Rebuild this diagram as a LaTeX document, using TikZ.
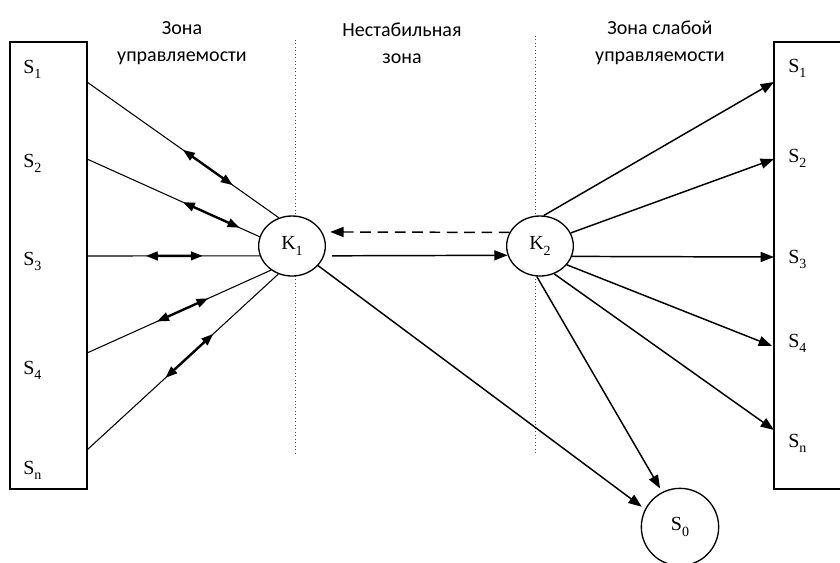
\documentclass[tikz,border=0pt]{standalone}
\usepackage{fontspec}
\setmainfont{Liberation Serif}
\newfontfamily\zonefont{Carlito}
\usetikzlibrary{arrows.meta,shapes.geometric}
\newcommand{\idx}[1]{\raisebox{-4pt}{\fontsize{10.5}{11}\selectfont #1}}
\tikzset{
  knot/.style={draw,ellipse,fill=white,line width=1pt,minimum width=50pt,minimum height=45pt,inner sep=0pt,font=\fontsize{15}{17}\selectfont},
  sink/.style={draw,circle,line width=1pt,minimum size=58pt,inner sep=0pt,font=\fontsize{15}{17}\selectfont},
  slabel/.style={anchor=base west,inner sep=0pt,font=\fontsize{15}{17}\selectfont},
  zone/.style={align=center,font=\zonefont\fontsize{15}{20}\selectfont},
  link/.style={line width=0.8pt},
  both/.style={line width=1.8pt,{Triangle[length=9pt,width=6.5pt]}-{Triangle[length=9pt,width=6.5pt]}},
  push/.style={line width=1.1pt,-{Triangle[length=10pt,width=7.5pt]}},
  border/.style={dotted,line width=0.6pt,black!70}
}
\begin{document}
\begin{tikzpicture}[x=0.75pt,y=-0.75pt]
    \useasboundingbox (0,0) rectangle (840,562);
    % Tên các vùng
    \node[zone] (z1) at (182,43) {Зона\\управляемости};
    \node[zone] (z2) at (402,43) {Нестабильная\\зона};
    \node[zone] (z3) at (660,43) {Зона слабой\\управляемости};
    
    % Ranh giới giữa các vùng
    \draw[border] (295,40) -- (295,453);
    \draw[border] (535,36) -- (535,453);
    
    % Hai khối S bên trái và bên phải
    \draw[line width=1pt] (10,42) rectangle (87,489);
    \draw[line width=1pt] (850,42) -- (774,42) -- (774,489) -- (850,489);
    \foreach \y/\i in {73/1,167/2,265/3,374/4,474/n}
    \node[slabel] (ls\i) at (23,\y) {S\idx{\i}};
    \foreach \y/\i in {72/1,162/2,263/3,347/4,447/n}
    \node[slabel] (rs\i) at (788,\y) {S\idx{\i}};
    
    % Các nút K và S0
    \node[knot] (k1) at (292,246) {K\idx{1}};
    \node[knot] (k2) at (540,246) {K\idx{2}};
    \node[sink] (s0) at (680,527) {S\idx{0}};
    
    % Liên kết hai chiều với K1
    \foreach \i/\y/\a/\p/\q in {1/82/115/0.50/0.76, 2/159/164/0.555/0.884, 3/256/197/0.34/0.67, 4/353/229/0.38/0.66, 5/450/244/0.41/0.66}
    {
    \coordinate (l\i) at (87,\y);
    \draw[link] (l\i) -- (k1.\a) coordinate[pos=\p] (a\i) coordinate[pos=\q] (b\i);
    \draw[both] (a\i) -- (b\i);
    }
    
    % K1 -- K2
    \draw[push,shorten <=6pt] (k1.-17) -- (k2.196);
    \draw[push,dashed,dash pattern=on 8pt off 5pt,shorten >=6pt] (k2.156) -- (k1.25);
    \draw[push,shorten >=3pt] (k1.-37) -- (s0.153);
    
    % Mũi tên từ K2 sang khối bên phải
    \coordinate (r1) at (774,82);
    \coordinate (r2) at (774,159);
    \coordinate (r3) at (774,257);
    \coordinate (r4) at (772,346);
    \coordinate (rn) at (774,430);
    \foreach \a/\t in {83/r1,23/r2,-18/r3,-35/r4,-63/rn}
    \draw[push] (k2.\a) -- (\t);
    \draw[push,shorten >=3pt] (k2.-96) -- (s0.117);
    \end{tikzpicture}
\end{document}
